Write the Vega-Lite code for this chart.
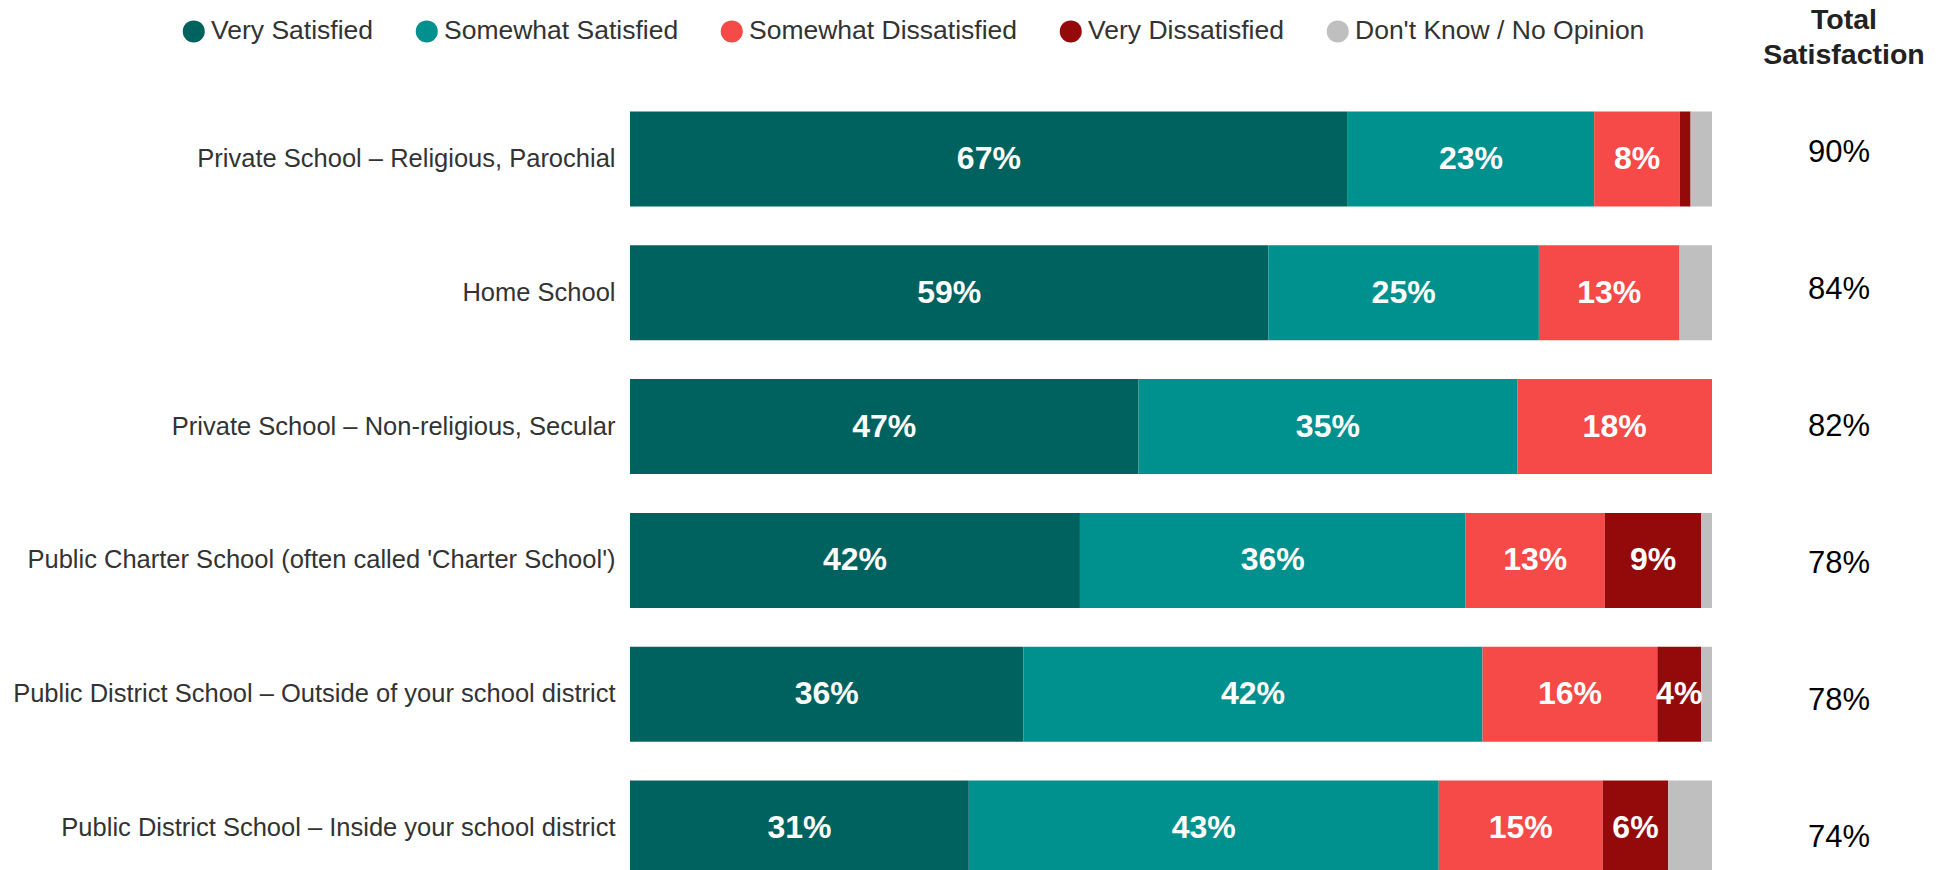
{
  "$schema": "https://vega.github.io/schema/vega-lite/v6.json",
  "autosize": "none",
  "width": 1082,
  "height": 778,
  "padding": {"left": 630, "top": 92, "right": 232, "bottom": 0},
  "background": "white",
  "config": {"view": {"stroke": null}, "font": "Liberation Sans"},
  "title": {
    "text": ["Total", "Satisfaction"],
    "anchor": "start",
    "frame": "group",
    "align": "center",
    "dx": 1214,
    "offset": -51,
    "fontSize": 28.5,
    "font": "Liberation Sans",
    "fontWeight": "bold",
    "color": "#222222",
    "lineHeight": 35
  },
  "datasets": {
    "ratings": [
      {"school": "Private School – Religious, Parochial", "rating": "Very Satisfied", "k": 1, "value": 0.67},
      {"school": "Private School – Religious, Parochial", "rating": "Somewhat Satisfied", "k": 2, "value": 0.23},
      {"school": "Private School – Religious, Parochial", "rating": "Somewhat Dissatisfied", "k": 3, "value": 0.08},
      {"school": "Private School – Religious, Parochial", "rating": "Very Dissatisfied", "k": 4, "value": 0.01},
      {"school": "Private School – Religious, Parochial", "rating": "Don't Know / No Opinion", "k": 5, "value": 0.02},
      {"school": "Home School", "rating": "Very Satisfied", "k": 1, "value": 0.59},
      {"school": "Home School", "rating": "Somewhat Satisfied", "k": 2, "value": 0.25},
      {"school": "Home School", "rating": "Somewhat Dissatisfied", "k": 3, "value": 0.13},
      {"school": "Home School", "rating": "Don't Know / No Opinion", "k": 5, "value": 0.03},
      {"school": "Private School – Non-religious, Secular", "rating": "Very Satisfied", "k": 1, "value": 0.47},
      {"school": "Private School – Non-religious, Secular", "rating": "Somewhat Satisfied", "k": 2, "value": 0.35},
      {"school": "Private School – Non-religious, Secular", "rating": "Somewhat Dissatisfied", "k": 3, "value": 0.18},
      {"school": "Public Charter School (often called 'Charter School')", "rating": "Very Satisfied", "k": 1, "value": 0.42},
      {"school": "Public Charter School (often called 'Charter School')", "rating": "Somewhat Satisfied", "k": 2, "value": 0.36},
      {"school": "Public Charter School (often called 'Charter School')", "rating": "Somewhat Dissatisfied", "k": 3, "value": 0.13},
      {"school": "Public Charter School (often called 'Charter School')", "rating": "Very Dissatisfied", "k": 4, "value": 0.09},
      {"school": "Public Charter School (often called 'Charter School')", "rating": "Don't Know / No Opinion", "k": 5, "value": 0.01},
      {"school": "Public District School – Outside of your school district", "rating": "Very Satisfied", "k": 1, "value": 0.36},
      {"school": "Public District School – Outside of your school district", "rating": "Somewhat Satisfied", "k": 2, "value": 0.42},
      {"school": "Public District School – Outside of your school district", "rating": "Somewhat Dissatisfied", "k": 3, "value": 0.16},
      {"school": "Public District School – Outside of your school district", "rating": "Very Dissatisfied", "k": 4, "value": 0.04},
      {"school": "Public District School – Outside of your school district", "rating": "Don't Know / No Opinion", "k": 5, "value": 0.01},
      {"school": "Public District School – Inside your school district", "rating": "Very Satisfied", "k": 1, "value": 0.31},
      {"school": "Public District School – Inside your school district", "rating": "Somewhat Satisfied", "k": 2, "value": 0.43},
      {"school": "Public District School – Inside your school district", "rating": "Somewhat Dissatisfied", "k": 3, "value": 0.15},
      {"school": "Public District School – Inside your school district", "rating": "Very Dissatisfied", "k": 4, "value": 0.06},
      {"school": "Public District School – Inside your school district", "rating": "Don't Know / No Opinion", "k": 5, "value": 0.04}
    ],
    "totals": [
      {"school": "Private School – Religious, Parochial", "total": 0.90},
      {"school": "Home School", "total": 0.84},
      {"school": "Private School – Non-religious, Secular", "total": 0.82},
      {"school": "Public Charter School (often called 'Charter School')", "total": 0.78},
      {"school": "Public District School – Outside of your school district", "total": 0.78},
      {"school": "Public District School – Inside your school district", "total": 0.74}
    ]
  },
  "layer": [
    {
      "data": {"name": "ratings"},
      "encoding": {
        "y": {
          "field": "school",
          "type": "nominal",
          "sort": null,
          "scale": {"range": [0, 803], "paddingInner": 0.29, "paddingOuter": 0.145},
          "axis": {
            "title": null,
            "domain": false,
            "ticks": false,
            "labelFontSize": 25.5,
            "labelFont": "Liberation Sans",
            "labelColor": "#333333",
            "labelPadding": 15,
            "labelLimit": 0
          }
        },
        "x": {
          "field": "value",
          "type": "quantitative",
          "stack": "normalize",
          "scale": {"domain": [0, 1]},
          "axis": null
        },
        "order": {"field": "k", "type": "quantitative"}
      },
      "layer": [
        {
          "mark": {"type": "bar"},
          "encoding": {
            "color": {
              "field": "rating",
              "type": "nominal",
              "scale": {
                "domain": ["Very Satisfied", "Somewhat Satisfied", "Somewhat Dissatisfied", "Very Dissatisfied", "Don't Know / No Opinion"],
                "range": ["#00625F", "#00918E", "#F54A48", "#940A0A", "#BFBFBF"]
              },
              "legend": {
                "orient": "none",
                "legendX": -449.5,
                "legendY": -74,
                "direction": "horizontal",
                "columns": 5,
                "title": null,
                "symbolType": "circle",
                "symbolSize": 484,
                "symbolStrokeWidth": 0,
                "labelFontSize": 26.5,
                "labelFont": "Liberation Sans",
                "labelColor": "#333333",
                "labelOffset": 4,
                "columnPadding": 40,
                "labelLimit": 0
              }
            }
          }
        },
        {
          "mark": {
            "type": "text",
            "color": "white",
            "fontSize": 32,
            "fontWeight": "bold",
            "font": "Liberation Sans",
            "baseline": "middle",
            "align": "center",
            "dx": {"expr": "(scale('x', datum.value_start) - scale('x', datum.value_end)) / 2"}
          },
          "encoding": {
            "detail": {"field": "rating", "type": "nominal"},
            "text": {"field": "value", "type": "quantitative", "format": ".0%"},
            "opacity": {
              "condition": {"test": "datum.value < 0.04 || datum.k == 5", "value": 0},
              "value": 1
            }
          }
        }
      ]
    },
    {
      "data": {"name": "totals"},
      "mark": {"type": "text", "color": "black", "fontSize": 31, "font": "Liberation Sans", "baseline": "middle", "align": "center", "dy": 2},
      "encoding": {
        "x": {"datum": 1.1174, "type": "quantitative"},
        "y": {
          "field": "school",
          "type": "nominal",
          "sort": null,
          "scale": {"type": "point", "range": [0, 803], "padding": 0.43},
          "axis": null
        },
        "text": {"field": "total", "type": "quantitative", "format": ".0%"}
      }
    }
  ],
  "resolve": {"scale": {"y": "independent"}}
}
